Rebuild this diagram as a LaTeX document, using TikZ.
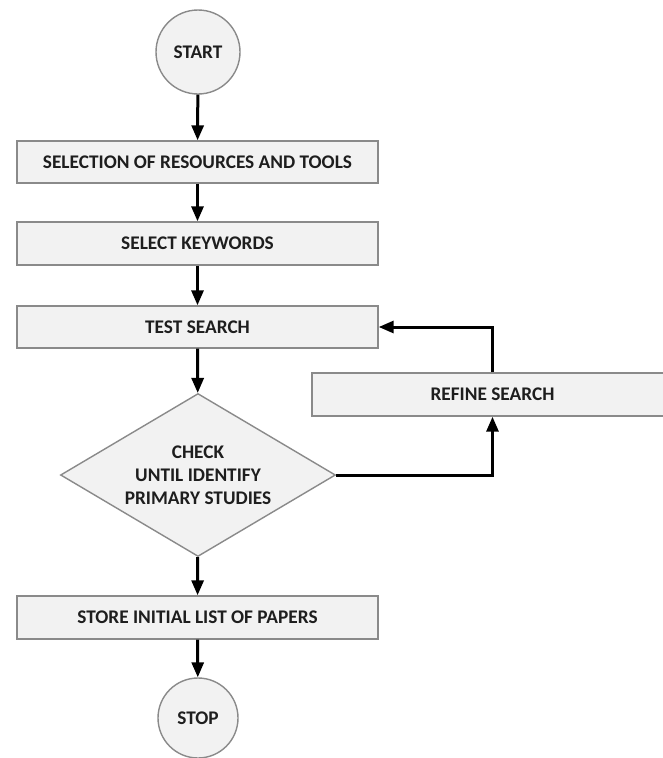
\documentclass[tikz,border=0pt]{standalone}
\usepackage{fontspec}
\setmainfont{Carlito}
\usetikzlibrary{shapes.geometric,arrows.meta}
\definecolor{boxfill}{HTML}{F2F2F2}
\definecolor{boxline}{HTML}{8A8A8A}
\definecolor{textdark}{HTML}{1E1E1E}
\begin{document}
\begin{tikzpicture}[x=1pt,y=-1pt,line width=3pt,
    >={Triangle[length=15pt,width=12pt]},
    base node/.style={draw=boxline,line width=1.4pt,fill=boxfill,text=textdark,font=\bfseries\fontsize{19.3}{23}\selectfont},
    step node/.style={base node,rectangle,minimum width=361,minimum height=42,inner sep=0},
    end node/.style={base node,circle,inner sep=0},
    check node/.style={base node,diamond,aspect=1.69,minimum width=275,minimum height=163,inner sep=0,align=center}]
                    \useasboundingbox (0,0) rectangle (662,758);
                    \node[end node,minimum size=84] at (198, 52) (start) {START};
                    \node[step node] at (197.5, 162) (sel) {SELECTION OF RESOURCES AND TOOLS};
                    \node[step node,minimum height=43] at (197.5, 243.5) (key) {SELECT KEYWORDS};
                    \node[step node] at (197.5, 327) (test) {TEST SEARCH};
                    \node[step node,minimum height=43] at (492.5, 394.5) (refine) {REFINE SEARCH};
                    \node[check node] at (198, 475) (check) {CHECK\\UNTIL IDENTIFY\\PRIMARY STUDIES};
                    \node[step node,minimum height=43] at (197.5, 617.5) (store) {STORE INITIAL LIST OF PAPERS};
                    \node[end node,minimum size=80] at (198, 718) (stop) {STOP};

                    \draw[->] (start) -- (sel);
                    \draw[->] (sel) -- (key);
                    \draw[->] (key) -- (test);
                    \draw[->] (test) -- (check);
                    \draw[->] (check) -- (store);
                    \draw[->] (store) -- (stop);
                    \draw[->] (check.east) -| (refine.south);
                    \draw[->] (refine.north) |- (test.east);
                \end{tikzpicture}
\end{document}
